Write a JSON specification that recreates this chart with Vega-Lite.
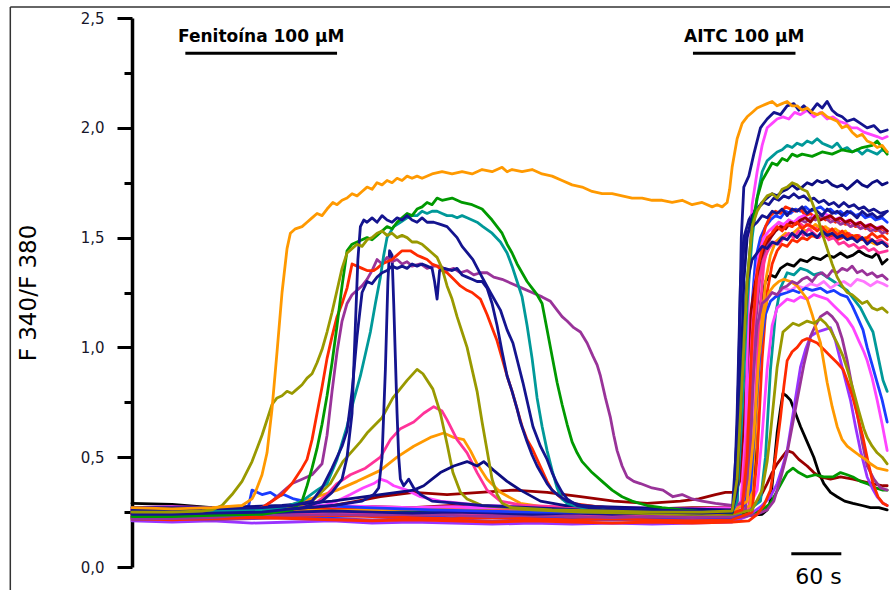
{
  "$schema": "https://vega.github.io/schema/vega-lite/v6.json",
  "width": 756,
  "height": 549,
  "autosize": {"type": "none"},
  "padding": {"left": 132, "top": 18, "right": 2, "bottom": 23},
  "background": "white",
  "config": {"view": {"stroke": null}, "font": "DejaVu Sans"},
  "datasets": {
    "drugs": [
      {"drug": "Fenitoína 100 µM", "start": 64, "end": 246},
      {"drug": "AITC 100 µM", "start": 673, "end": 796}
    ],
    "scalebar": [
      {"label": "60 s", "start": 791, "end": 851}
    ],
    "traces": [
{"s":"q","t":0,"v":0.29},{"s":"q","t":48,"v":0.285},{"s":"q","t":96,"v":0.27},{"s":"q","t":144,"v":0.26},{"s":"q","t":192,"v":0.26},{"s":"q","t":240,"v":0.255},{"s":"q","t":288,"v":0.25},{"s":"q","t":336,"v":0.26},{"s":"q","t":384,"v":0.25},{"s":"q","t":432,"v":0.25},{"s":"q","t":480,"v":0.245},{"s":"q","t":528,"v":0.24},{"s":"q","t":576,"v":0.245},{"s":"q","t":624,"v":0.24},{"s":"q","t":672,"v":0.235},{"s":"q","t":720,"v":0.24},{"s":"q","t":740,"v":0.25},{"s":"q","t":746,"v":0.4},{"s":"q","t":750,"v":0.8},{"s":"q","t":754,"v":1.2},{"s":"q","t":760,"v":1.3},{"s":"q","t":766,"v":1.33},{"s":"q","t":772,"v":1.32},{"s":"q","t":778,"v":1.36},{"s":"q","t":786,"v":1.38},{"s":"q","t":794,"v":1.37},{"s":"q","t":802,"v":1.4},{"s":"q","t":810,"v":1.39},{"s":"q","t":817,"v":1.41},{"s":"q","t":826,"v":1.4},{"s":"q","t":834,"v":1.42},{"s":"q","t":842,"v":1.41},{"s":"q","t":850,"v":1.43},{"s":"q","t":858,"v":1.41},{"s":"q","t":865,"v":1.42},{"s":"q","t":872,"v":1.44},{"s":"q","t":880,"v":1.42},{"s":"q","t":888,"v":1.41},{"s":"q","t":894,"v":1.43},{"s":"q","t":900,"v":1.38},{"s":"q","t":906,"v":1.4},
{"s":"r","t":0,"v":0.225},{"s":"r","t":48,"v":0.23},{"s":"r","t":96,"v":0.235},{"s":"r","t":144,"v":0.23},{"s":"r","t":192,"v":0.24},{"s":"r","t":240,"v":0.245},{"s":"r","t":288,"v":0.24},{"s":"r","t":336,"v":0.25},{"s":"r","t":384,"v":0.245},{"s":"r","t":432,"v":0.24},{"s":"r","t":480,"v":0.235},{"s":"r","t":528,"v":0.24},{"s":"r","t":576,"v":0.235},{"s":"r","t":624,"v":0.23},{"s":"r","t":672,"v":0.235},{"s":"r","t":720,"v":0.23},{"s":"r","t":756,"v":0.24},{"s":"r","t":762,"v":0.26},{"s":"r","t":766,"v":0.3},{"s":"r","t":770,"v":0.45},{"s":"r","t":774,"v":0.61},{"s":"r","t":778,"v":0.72},{"s":"r","t":781,"v":0.79},{"s":"r","t":785,"v":0.78},{"s":"r","t":790,"v":0.76},{"s":"r","t":796,"v":0.7},{"s":"r","t":802,"v":0.64},{"s":"r","t":810,"v":0.57},{"s":"r","t":818,"v":0.5},{"s":"r","t":824,"v":0.43},{"s":"r","t":830,"v":0.38},{"s":"r","t":838,"v":0.34},{"s":"r","t":846,"v":0.32},{"s":"r","t":855,"v":0.3},{"s":"r","t":865,"v":0.29},{"s":"r","t":876,"v":0.28},{"s":"r","t":886,"v":0.27},{"s":"r","t":896,"v":0.27},{"s":"r","t":906,"v":0.26},
{"s":"s","t":0,"v":0.26},{"s":"s","t":48,"v":0.265},{"s":"s","t":96,"v":0.26},{"s":"s","t":144,"v":0.27},{"s":"s","t":192,"v":0.265},{"s":"s","t":240,"v":0.27},{"s":"s","t":288,"v":0.275},{"s":"s","t":336,"v":0.27},{"s":"s","t":384,"v":0.28},{"s":"s","t":432,"v":0.275},{"s":"s","t":480,"v":0.27},{"s":"s","t":528,"v":0.265},{"s":"s","t":576,"v":0.27},{"s":"s","t":624,"v":0.265},{"s":"s","t":672,"v":0.27},{"s":"s","t":720,"v":0.27},{"s":"s","t":740,"v":0.27},{"s":"s","t":748,"v":0.29},{"s":"s","t":754,"v":0.32},{"s":"s","t":762,"v":0.38},{"s":"s","t":768,"v":0.43},{"s":"s","t":774,"v":0.47},{"s":"s","t":780,"v":0.5},{"s":"s","t":786,"v":0.53},{"s":"s","t":793,"v":0.52},{"s":"s","t":800,"v":0.49},{"s":"s","t":810,"v":0.46},{"s":"s","t":818,"v":0.43},{"s":"s","t":826,"v":0.41},{"s":"s","t":838,"v":0.4},{"s":"s","t":850,"v":0.41},{"s":"s","t":865,"v":0.4},{"s":"s","t":876,"v":0.39},{"s":"s","t":888,"v":0.38},{"s":"s","t":901,"v":0.37},{"s":"s","t":906,"v":0.37},
{"s":"u","t":0,"v":0.25},{"s":"u","t":48,"v":0.245},{"s":"u","t":96,"v":0.25},{"s":"u","t":144,"v":0.24},{"s":"u","t":192,"v":0.245},{"s":"u","t":240,"v":0.25},{"s":"u","t":288,"v":0.24},{"s":"u","t":336,"v":0.245},{"s":"u","t":384,"v":0.24},{"s":"u","t":432,"v":0.235},{"s":"u","t":480,"v":0.24},{"s":"u","t":528,"v":0.235},{"s":"u","t":576,"v":0.23},{"s":"u","t":624,"v":0.235},{"s":"u","t":672,"v":0.23},{"s":"u","t":720,"v":0.235},{"s":"u","t":740,"v":0.24},{"s":"u","t":756,"v":0.26},{"s":"u","t":766,"v":0.29},{"s":"u","t":776,"v":0.36},{"s":"u","t":786,"v":0.43},{"s":"u","t":793,"v":0.45},{"s":"u","t":800,"v":0.43},{"s":"u","t":810,"v":0.41},{"s":"u","t":820,"v":0.42},{"s":"u","t":830,"v":0.41},{"s":"u","t":841,"v":0.41},{"s":"u","t":850,"v":0.43},{"s":"u","t":858,"v":0.42},{"s":"u","t":865,"v":0.41},{"s":"u","t":874,"v":0.39},{"s":"u","t":882,"v":0.38},{"s":"u","t":892,"v":0.36},{"s":"u","t":901,"v":0.35},{"s":"u","t":906,"v":0.35},
{"s":"v","t":0,"v":0.21},{"s":"v","t":48,"v":0.205},{"s":"v","t":96,"v":0.21},{"s":"v","t":144,"v":0.2},{"s":"v","t":192,"v":0.205},{"s":"v","t":240,"v":0.21},{"s":"v","t":288,"v":0.2},{"s":"v","t":336,"v":0.205},{"s":"v","t":384,"v":0.2},{"s":"v","t":432,"v":0.195},{"s":"v","t":480,"v":0.2},{"s":"v","t":528,"v":0.195},{"s":"v","t":576,"v":0.2},{"s":"v","t":624,"v":0.195},{"s":"v","t":672,"v":0.2},{"s":"v","t":720,"v":0.205},{"s":"v","t":738,"v":0.23},{"s":"v","t":756,"v":0.28},{"s":"v","t":766,"v":0.32},{"s":"v","t":774,"v":0.38},{"s":"v","t":780,"v":0.45},{"s":"v","t":786,"v":0.53},{"s":"v","t":794,"v":0.72},{"s":"v","t":802,"v":0.91},{"s":"v","t":808,"v":0.99},{"s":"v","t":814,"v":1.05},{"s":"v","t":822,"v":1.07},{"s":"v","t":830,"v":1.08},{"s":"v","t":838,"v":1.09},{"s":"v","t":844,"v":1.03},{"s":"v","t":850,"v":0.94},{"s":"v","t":856,"v":0.85},{"s":"v","t":862,"v":0.76},{"s":"v","t":868,"v":0.64},{"s":"v","t":874,"v":0.53},{"s":"v","t":882,"v":0.41},{"s":"v","t":888,"v":0.36},{"s":"v","t":894,"v":0.32},{"s":"v","t":901,"v":0.29},{"s":"v","t":906,"v":0.28},
{"s":"w","t":0,"v":0.215},{"s":"w","t":48,"v":0.22},{"s":"w","t":96,"v":0.215},{"s":"w","t":144,"v":0.22},{"s":"w","t":192,"v":0.225},{"s":"w","t":240,"v":0.22},{"s":"w","t":288,"v":0.215},{"s":"w","t":336,"v":0.22},{"s":"w","t":384,"v":0.215},{"s":"w","t":432,"v":0.21},{"s":"w","t":480,"v":0.215},{"s":"w","t":528,"v":0.21},{"s":"w","t":576,"v":0.215},{"s":"w","t":624,"v":0.21},{"s":"w","t":672,"v":0.215},{"s":"w","t":720,"v":0.22},{"s":"w","t":750,"v":0.24},{"s":"w","t":762,"v":0.26},{"s":"w","t":770,"v":0.3},{"s":"w","t":778,"v":0.4},{"s":"w","t":786,"v":0.52},{"s":"w","t":792,"v":0.64},{"s":"w","t":798,"v":0.76},{"s":"w","t":806,"v":0.92},{"s":"w","t":814,"v":1.05},{"s":"w","t":820,"v":1.1},{"s":"w","t":826,"v":1.14},{"s":"w","t":834,"v":1.16},{"s":"w","t":840,"v":1.14},{"s":"w","t":846,"v":1.11},{"s":"w","t":852,"v":1.04},{"s":"w","t":858,"v":0.94},{"s":"w","t":864,"v":0.82},{"s":"w","t":870,"v":0.7},{"s":"w","t":876,"v":0.57},{"s":"w","t":882,"v":0.46},{"s":"w","t":890,"v":0.4},{"s":"w","t":898,"v":0.36},{"s":"w","t":906,"v":0.35},
{"s":"x","t":0,"v":0.255},{"s":"x","t":48,"v":0.26},{"s":"x","t":96,"v":0.255},{"s":"x","t":144,"v":0.26},{"s":"x","t":192,"v":0.265},{"s":"x","t":240,"v":0.26},{"s":"x","t":288,"v":0.255},{"s":"x","t":336,"v":0.26},{"s":"x","t":384,"v":0.255},{"s":"x","t":432,"v":0.25},{"s":"x","t":480,"v":0.255},{"s":"x","t":528,"v":0.25},{"s":"x","t":576,"v":0.245},{"s":"x","t":624,"v":0.25},{"s":"x","t":672,"v":0.245},{"s":"x","t":720,"v":0.25},{"s":"x","t":740,"v":0.26},{"s":"x","t":754,"v":0.3},{"s":"x","t":760,"v":0.5},{"s":"x","t":766,"v":0.9},{"s":"x","t":772,"v":1.15},{"s":"x","t":778,"v":1.27},{"s":"x","t":786,"v":1.34},{"s":"x","t":794,"v":1.33},{"s":"x","t":802,"v":1.36},{"s":"x","t":810,"v":1.35},{"s":"x","t":818,"v":1.33},{"s":"x","t":826,"v":1.34},{"s":"x","t":834,"v":1.32},{"s":"x","t":842,"v":1.3},{"s":"x","t":850,"v":1.28},{"s":"x","t":858,"v":1.26},{"s":"x","t":866,"v":1.22},{"s":"x","t":874,"v":1.18},{"s":"x","t":882,"v":1.12},{"s":"x","t":889,"v":1.07},{"s":"x","t":895,"v":0.96},{"s":"x","t":901,"v":0.85},{"s":"x","t":906,"v":0.8},
{"s":"y","t":0,"v":0.27},{"s":"y","t":48,"v":0.275},{"s":"y","t":96,"v":0.27},{"s":"y","t":144,"v":0.265},{"s":"y","t":192,"v":0.27},{"s":"y","t":240,"v":0.275},{"s":"y","t":288,"v":0.27},{"s":"y","t":336,"v":0.265},{"s":"y","t":384,"v":0.27},{"s":"y","t":432,"v":0.265},{"s":"y","t":480,"v":0.26},{"s":"y","t":528,"v":0.265},{"s":"y","t":576,"v":0.26},{"s":"y","t":624,"v":0.255},{"s":"y","t":672,"v":0.26},{"s":"y","t":720,"v":0.26},{"s":"y","t":740,"v":0.27},{"s":"y","t":750,"v":0.35},{"s":"y","t":756,"v":0.6},{"s":"y","t":762,"v":0.9},{"s":"y","t":768,"v":1.1},{"s":"y","t":774,"v":1.18},{"s":"y","t":780,"v":1.2},{"s":"y","t":786,"v":1.22},{"s":"y","t":794,"v":1.21},{"s":"y","t":802,"v":1.23},{"s":"y","t":810,"v":1.22},{"s":"y","t":818,"v":1.24},{"s":"y","t":826,"v":1.23},{"s":"y","t":834,"v":1.22},{"s":"y","t":842,"v":1.19},{"s":"y","t":850,"v":1.16},{"s":"y","t":858,"v":1.13},{"s":"y","t":865,"v":1.09},{"s":"y","t":872,"v":1.03},{"s":"y","t":878,"v":0.98},{"s":"y","t":882,"v":0.94},{"s":"y","t":888,"v":0.86},{"s":"y","t":894,"v":0.76},{"s":"y","t":900,"v":0.65},{"s":"y","t":906,"v":0.53},
{"s":"z","t":0,"v":0.24},{"s":"z","t":48,"v":0.245},{"s":"z","t":96,"v":0.24},{"s":"z","t":144,"v":0.235},{"s":"z","t":192,"v":0.24},{"s":"z","t":240,"v":0.245},{"s":"z","t":288,"v":0.24},{"s":"z","t":336,"v":0.235},{"s":"z","t":384,"v":0.24},{"s":"z","t":432,"v":0.235},{"s":"z","t":480,"v":0.23},{"s":"z","t":528,"v":0.235},{"s":"z","t":576,"v":0.23},{"s":"z","t":624,"v":0.235},{"s":"z","t":672,"v":0.23},{"s":"z","t":720,"v":0.235},{"s":"z","t":730,"v":0.25},{"s":"z","t":740,"v":0.4},{"s":"z","t":746,"v":0.8},{"s":"z","t":752,"v":1.05},{"s":"z","t":758,"v":1.18},{"s":"z","t":766,"v":1.25},{"s":"z","t":774,"v":1.24},{"s":"z","t":782,"v":1.27},{"s":"z","t":790,"v":1.26},{"s":"z","t":798,"v":1.28},{"s":"z","t":806,"v":1.27},{"s":"z","t":814,"v":1.29},{"s":"z","t":822,"v":1.28},{"s":"z","t":830,"v":1.3},{"s":"z","t":838,"v":1.27},{"s":"z","t":846,"v":1.29},{"s":"z","t":854,"v":1.3},{"s":"z","t":862,"v":1.28},{"s":"z","t":870,"v":1.31},{"s":"z","t":878,"v":1.3},{"s":"z","t":886,"v":1.28},{"s":"z","t":894,"v":1.3},{"s":"z","t":901,"v":1.29},{"s":"z","t":906,"v":1.28},
{"s":"aa","t":0,"v":0.22},{"s":"aa","t":48,"v":0.215},{"s":"aa","t":96,"v":0.22},{"s":"aa","t":144,"v":0.225},{"s":"aa","t":192,"v":0.22},{"s":"aa","t":240,"v":0.215},{"s":"aa","t":288,"v":0.21},{"s":"aa","t":336,"v":0.215},{"s":"aa","t":384,"v":0.21},{"s":"aa","t":432,"v":0.205},{"s":"aa","t":480,"v":0.21},{"s":"aa","t":528,"v":0.205},{"s":"aa","t":576,"v":0.2},{"s":"aa","t":624,"v":0.205},{"s":"aa","t":672,"v":0.2},{"s":"aa","t":720,"v":0.205},{"s":"aa","t":740,"v":0.21},{"s":"aa","t":750,"v":0.24},{"s":"aa","t":758,"v":0.28},{"s":"aa","t":766,"v":0.35},{"s":"aa","t":772,"v":0.5},{"s":"aa","t":778,"v":0.68},{"s":"aa","t":782,"v":0.82},{"s":"aa","t":786,"v":0.94},{"s":"aa","t":792,"v":0.98},{"s":"aa","t":798,"v":1.0},{"s":"aa","t":804,"v":1.03},{"s":"aa","t":810,"v":1.04},{"s":"aa","t":816,"v":1.03},{"s":"aa","t":822,"v":1.02},{"s":"aa","t":830,"v":0.99},{"s":"aa","t":838,"v":0.96},{"s":"aa","t":846,"v":0.93},{"s":"aa","t":853,"v":0.9},{"s":"aa","t":859,"v":0.84},{"s":"aa","t":865,"v":0.77},{"s":"aa","t":871,"v":0.68},{"s":"aa","t":877,"v":0.59},{"s":"aa","t":883,"v":0.48},{"s":"aa","t":889,"v":0.38},{"s":"aa","t":895,"v":0.32},{"s":"aa","t":901,"v":0.29},{"s":"aa","t":906,"v":0.28},
{"s":"ab","t":0,"v":0.235},{"s":"ab","t":48,"v":0.23},{"s":"ab","t":96,"v":0.235},{"s":"ab","t":144,"v":0.24},{"s":"ab","t":192,"v":0.235},{"s":"ab","t":240,"v":0.23},{"s":"ab","t":288,"v":0.235},{"s":"ab","t":336,"v":0.23},{"s":"ab","t":384,"v":0.225},{"s":"ab","t":432,"v":0.23},{"s":"ab","t":480,"v":0.225},{"s":"ab","t":528,"v":0.22},{"s":"ab","t":576,"v":0.225},{"s":"ab","t":624,"v":0.22},{"s":"ab","t":672,"v":0.225},{"s":"ab","t":720,"v":0.225},{"s":"ab","t":730,"v":0.24},{"s":"ab","t":736,"v":0.5},{"s":"ab","t":742,"v":1.1},{"s":"ab","t":748,"v":1.4},{"s":"ab","t":754,"v":1.5},{"s":"ab","t":760,"v":1.55},{"s":"ab","t":766,"v":1.58},{"s":"ab","t":772,"v":1.6},{"s":"ab","t":778,"v":1.59},{"s":"ab","t":784,"v":1.62},{"s":"ab","t":790,"v":1.61},{"s":"ab","t":796,"v":1.63},{"s":"ab","t":802,"v":1.62},{"s":"ab","t":808,"v":1.64},{"s":"ab","t":814,"v":1.62},{"s":"ab","t":820,"v":1.63},{"s":"ab","t":826,"v":1.64},{"s":"ab","t":832,"v":1.62},{"s":"ab","t":838,"v":1.63},{"s":"ab","t":844,"v":1.61},{"s":"ab","t":850,"v":1.62},{"s":"ab","t":856,"v":1.6},{"s":"ab","t":862,"v":1.62},{"s":"ab","t":868,"v":1.6},{"s":"ab","t":874,"v":1.61},{"s":"ab","t":880,"v":1.59},{"s":"ab","t":886,"v":1.6},{"s":"ab","t":892,"v":1.58},{"s":"ab","t":900,"v":1.59},{"s":"ab","t":906,"v":1.57},
{"s":"ac","t":0,"v":0.255},{"s":"ac","t":48,"v":0.25},{"s":"ac","t":96,"v":0.255},{"s":"ac","t":144,"v":0.26},{"s":"ac","t":192,"v":0.27},{"s":"ac","t":240,"v":0.265},{"s":"ac","t":288,"v":0.26},{"s":"ac","t":336,"v":0.265},{"s":"ac","t":384,"v":0.26},{"s":"ac","t":432,"v":0.255},{"s":"ac","t":480,"v":0.26},{"s":"ac","t":528,"v":0.255},{"s":"ac","t":576,"v":0.25},{"s":"ac","t":624,"v":0.255},{"s":"ac","t":672,"v":0.25},{"s":"ac","t":720,"v":0.255},{"s":"ac","t":736,"v":0.27},{"s":"ac","t":742,"v":0.6},{"s":"ac","t":748,"v":1.2},{"s":"ac","t":754,"v":1.45},{"s":"ac","t":760,"v":1.55},{"s":"ac","t":766,"v":1.6},{"s":"ac","t":772,"v":1.62},{"s":"ac","t":778,"v":1.61},{"s":"ac","t":784,"v":1.64},{"s":"ac","t":790,"v":1.63},{"s":"ac","t":796,"v":1.62},{"s":"ac","t":802,"v":1.63},{"s":"ac","t":808,"v":1.6},{"s":"ac","t":814,"v":1.61},{"s":"ac","t":820,"v":1.59},{"s":"ac","t":826,"v":1.6},{"s":"ac","t":832,"v":1.58},{"s":"ac","t":838,"v":1.59},{"s":"ac","t":844,"v":1.57},{"s":"ac","t":850,"v":1.58},{"s":"ac","t":856,"v":1.56},{"s":"ac","t":862,"v":1.57},{"s":"ac","t":868,"v":1.55},{"s":"ac","t":874,"v":1.56},{"s":"ac","t":880,"v":1.54},{"s":"ac","t":886,"v":1.55},{"s":"ac","t":892,"v":1.53},{"s":"ac","t":900,"v":1.54},{"s":"ac","t":906,"v":1.52},
{"s":"ad","t":0,"v":0.245},{"s":"ad","t":48,"v":0.25},{"s":"ad","t":96,"v":0.245},{"s":"ad","t":144,"v":0.24},{"s":"ad","t":192,"v":0.245},{"s":"ad","t":240,"v":0.25},{"s":"ad","t":288,"v":0.245},{"s":"ad","t":336,"v":0.24},{"s":"ad","t":384,"v":0.245},{"s":"ad","t":432,"v":0.24},{"s":"ad","t":480,"v":0.235},{"s":"ad","t":528,"v":0.24},{"s":"ad","t":576,"v":0.235},{"s":"ad","t":624,"v":0.24},{"s":"ad","t":672,"v":0.235},{"s":"ad","t":720,"v":0.24},{"s":"ad","t":740,"v":0.26},{"s":"ad","t":746,"v":0.55},{"s":"ad","t":752,"v":1.1},{"s":"ad","t":758,"v":1.38},{"s":"ad","t":764,"v":1.48},{"s":"ad","t":770,"v":1.54},{"s":"ad","t":776,"v":1.57},{"s":"ad","t":782,"v":1.55},{"s":"ad","t":788,"v":1.58},{"s":"ad","t":794,"v":1.56},{"s":"ad","t":800,"v":1.57},{"s":"ad","t":806,"v":1.55},{"s":"ad","t":812,"v":1.56},{"s":"ad","t":818,"v":1.54},{"s":"ad","t":824,"v":1.55},{"s":"ad","t":830,"v":1.53},{"s":"ad","t":836,"v":1.54},{"s":"ad","t":842,"v":1.52},{"s":"ad","t":848,"v":1.53},{"s":"ad","t":854,"v":1.51},{"s":"ad","t":860,"v":1.52},{"s":"ad","t":866,"v":1.5},{"s":"ad","t":872,"v":1.51},{"s":"ad","t":878,"v":1.49},{"s":"ad","t":884,"v":1.5},{"s":"ad","t":890,"v":1.48},{"s":"ad","t":898,"v":1.49},{"s":"ad","t":906,"v":1.47},
{"s":"ae","t":0,"v":0.26},{"s":"ae","t":48,"v":0.255},{"s":"ae","t":96,"v":0.26},{"s":"ae","t":144,"v":0.265},{"s":"ae","t":192,"v":0.26},{"s":"ae","t":240,"v":0.255},{"s":"ae","t":288,"v":0.26},{"s":"ae","t":336,"v":0.265},{"s":"ae","t":384,"v":0.26},{"s":"ae","t":432,"v":0.255},{"s":"ae","t":480,"v":0.25},{"s":"ae","t":528,"v":0.255},{"s":"ae","t":576,"v":0.25},{"s":"ae","t":624,"v":0.245},{"s":"ae","t":672,"v":0.25},{"s":"ae","t":720,"v":0.245},{"s":"ae","t":742,"v":0.28},{"s":"ae","t":748,"v":0.6},{"s":"ae","t":754,"v":1.05},{"s":"ae","t":760,"v":1.3},{"s":"ae","t":766,"v":1.42},{"s":"ae","t":772,"v":1.48},{"s":"ae","t":778,"v":1.5},{"s":"ae","t":784,"v":1.52},{"s":"ae","t":790,"v":1.51},{"s":"ae","t":796,"v":1.53},{"s":"ae","t":802,"v":1.55},{"s":"ae","t":808,"v":1.53},{"s":"ae","t":814,"v":1.54},{"s":"ae","t":820,"v":1.56},{"s":"ae","t":826,"v":1.54},{"s":"ae","t":832,"v":1.55},{"s":"ae","t":838,"v":1.53},{"s":"ae","t":844,"v":1.54},{"s":"ae","t":850,"v":1.52},{"s":"ae","t":856,"v":1.53},{"s":"ae","t":862,"v":1.5},{"s":"ae","t":868,"v":1.51},{"s":"ae","t":874,"v":1.49},{"s":"ae","t":880,"v":1.5},{"s":"ae","t":886,"v":1.48},{"s":"ae","t":892,"v":1.47},{"s":"ae","t":900,"v":1.48},{"s":"ae","t":906,"v":1.46},
{"s":"af","t":0,"v":0.265},{"s":"af","t":48,"v":0.27},{"s":"af","t":96,"v":0.265},{"s":"af","t":144,"v":0.27},{"s":"af","t":192,"v":0.275},{"s":"af","t":240,"v":0.28},{"s":"af","t":288,"v":0.275},{"s":"af","t":336,"v":0.27},{"s":"af","t":384,"v":0.275},{"s":"af","t":432,"v":0.27},{"s":"af","t":480,"v":0.265},{"s":"af","t":528,"v":0.27},{"s":"af","t":576,"v":0.265},{"s":"af","t":624,"v":0.26},{"s":"af","t":672,"v":0.265},{"s":"af","t":720,"v":0.27},{"s":"af","t":734,"v":0.3},{"s":"af","t":740,"v":0.8},{"s":"af","t":746,"v":1.25},{"s":"af","t":752,"v":1.42},{"s":"af","t":758,"v":1.5},{"s":"af","t":764,"v":1.53},{"s":"af","t":770,"v":1.55},{"s":"af","t":776,"v":1.57},{"s":"af","t":782,"v":1.56},{"s":"af","t":788,"v":1.58},{"s":"af","t":794,"v":1.57},{"s":"af","t":800,"v":1.59},{"s":"af","t":806,"v":1.6},{"s":"af","t":812,"v":1.58},{"s":"af","t":818,"v":1.6},{"s":"af","t":824,"v":1.59},{"s":"af","t":830,"v":1.61},{"s":"af","t":836,"v":1.6},{"s":"af","t":842,"v":1.58},{"s":"af","t":848,"v":1.59},{"s":"af","t":854,"v":1.57},{"s":"af","t":860,"v":1.58},{"s":"af","t":866,"v":1.56},{"s":"af","t":872,"v":1.57},{"s":"af","t":878,"v":1.55},{"s":"af","t":884,"v":1.56},{"s":"af","t":890,"v":1.54},{"s":"af","t":898,"v":1.55},{"s":"af","t":906,"v":1.53},
{"s":"ag","t":0,"v":0.23},{"s":"ag","t":48,"v":0.235},{"s":"ag","t":96,"v":0.23},{"s":"ag","t":144,"v":0.225},{"s":"ag","t":192,"v":0.23},{"s":"ag","t":240,"v":0.235},{"s":"ag","t":288,"v":0.23},{"s":"ag","t":336,"v":0.225},{"s":"ag","t":384,"v":0.22},{"s":"ag","t":432,"v":0.225},{"s":"ag","t":480,"v":0.22},{"s":"ag","t":528,"v":0.215},{"s":"ag","t":576,"v":0.22},{"s":"ag","t":624,"v":0.215},{"s":"ag","t":672,"v":0.21},{"s":"ag","t":720,"v":0.215},{"s":"ag","t":744,"v":0.25},{"s":"ag","t":750,"v":0.5},{"s":"ag","t":756,"v":0.95},{"s":"ag","t":762,"v":1.25},{"s":"ag","t":768,"v":1.38},{"s":"ag","t":774,"v":1.44},{"s":"ag","t":780,"v":1.47},{"s":"ag","t":786,"v":1.46},{"s":"ag","t":792,"v":1.49},{"s":"ag","t":798,"v":1.48},{"s":"ag","t":804,"v":1.5},{"s":"ag","t":810,"v":1.49},{"s":"ag","t":816,"v":1.51},{"s":"ag","t":822,"v":1.5},{"s":"ag","t":828,"v":1.52},{"s":"ag","t":834,"v":1.5},{"s":"ag","t":840,"v":1.51},{"s":"ag","t":846,"v":1.49},{"s":"ag","t":852,"v":1.5},{"s":"ag","t":858,"v":1.52},{"s":"ag","t":864,"v":1.5},{"s":"ag","t":870,"v":1.51},{"s":"ag","t":876,"v":1.49},{"s":"ag","t":882,"v":1.5},{"s":"ag","t":888,"v":1.52},{"s":"ag","t":894,"v":1.5},{"s":"ag","t":900,"v":1.51},{"s":"ag","t":906,"v":1.49},
{"s":"ah","t":0,"v":0.245},{"s":"ah","t":48,"v":0.24},{"s":"ah","t":96,"v":0.245},{"s":"ah","t":144,"v":0.24},{"s":"ah","t":192,"v":0.235},{"s":"ah","t":240,"v":0.24},{"s":"ah","t":288,"v":0.235},{"s":"ah","t":336,"v":0.24},{"s":"ah","t":384,"v":0.235},{"s":"ah","t":432,"v":0.23},{"s":"ah","t":480,"v":0.235},{"s":"ah","t":528,"v":0.23},{"s":"ah","t":576,"v":0.225},{"s":"ah","t":624,"v":0.23},{"s":"ah","t":672,"v":0.225},{"s":"ah","t":720,"v":0.23},{"s":"ah","t":736,"v":0.26},{"s":"ah","t":742,"v":0.55},{"s":"ah","t":748,"v":1.1},{"s":"ah","t":754,"v":1.35},{"s":"ah","t":760,"v":1.45},{"s":"ah","t":766,"v":1.5},{"s":"ah","t":772,"v":1.53},{"s":"ah","t":778,"v":1.55},{"s":"ah","t":784,"v":1.54},{"s":"ah","t":790,"v":1.57},{"s":"ah","t":796,"v":1.56},{"s":"ah","t":802,"v":1.58},{"s":"ah","t":808,"v":1.57},{"s":"ah","t":814,"v":1.59},{"s":"ah","t":820,"v":1.58},{"s":"ah","t":826,"v":1.6},{"s":"ah","t":832,"v":1.59},{"s":"ah","t":838,"v":1.57},{"s":"ah","t":844,"v":1.58},{"s":"ah","t":850,"v":1.56},{"s":"ah","t":856,"v":1.57},{"s":"ah","t":862,"v":1.55},{"s":"ah","t":868,"v":1.56},{"s":"ah","t":874,"v":1.54},{"s":"ah","t":880,"v":1.55},{"s":"ah","t":886,"v":1.53},{"s":"ah","t":894,"v":1.54},{"s":"ah","t":900,"v":1.52},{"s":"ah","t":906,"v":1.53},
{"s":"ai","t":0,"v":0.25},{"s":"ai","t":48,"v":0.255},{"s":"ai","t":96,"v":0.25},{"s":"ai","t":144,"v":0.245},{"s":"ai","t":192,"v":0.25},{"s":"ai","t":240,"v":0.255},{"s":"ai","t":288,"v":0.25},{"s":"ai","t":336,"v":0.245},{"s":"ai","t":384,"v":0.25},{"s":"ai","t":432,"v":0.245},{"s":"ai","t":480,"v":0.24},{"s":"ai","t":528,"v":0.245},{"s":"ai","t":576,"v":0.24},{"s":"ai","t":624,"v":0.245},{"s":"ai","t":672,"v":0.24},{"s":"ai","t":712,"v":0.245},{"s":"ai","t":722,"v":0.27},{"s":"ai","t":726,"v":0.7},{"s":"ai","t":730,"v":1.3},{"s":"ai","t":734,"v":1.5},{"s":"ai","t":740,"v":1.58},{"s":"ai","t":746,"v":1.62},{"s":"ai","t":752,"v":1.64},{"s":"ai","t":758,"v":1.66},{"s":"ai","t":764,"v":1.65},{"s":"ai","t":770,"v":1.68},{"s":"ai","t":776,"v":1.67},{"s":"ai","t":782,"v":1.69},{"s":"ai","t":788,"v":1.68},{"s":"ai","t":794,"v":1.7},{"s":"ai","t":800,"v":1.68},{"s":"ai","t":806,"v":1.69},{"s":"ai","t":812,"v":1.67},{"s":"ai","t":818,"v":1.68},{"s":"ai","t":824,"v":1.66},{"s":"ai","t":830,"v":1.67},{"s":"ai","t":836,"v":1.65},{"s":"ai","t":842,"v":1.66},{"s":"ai","t":848,"v":1.64},{"s":"ai","t":854,"v":1.66},{"s":"ai","t":860,"v":1.64},{"s":"ai","t":866,"v":1.65},{"s":"ai","t":872,"v":1.63},{"s":"ai","t":878,"v":1.64},{"s":"ai","t":884,"v":1.62},{"s":"ai","t":890,"v":1.63},{"s":"ai","t":898,"v":1.61},{"s":"ai","t":906,"v":1.62},
{"s":"p","t":0,"v":0.23},{"s":"p","t":48,"v":0.235},{"s":"p","t":96,"v":0.24},{"s":"p","t":130,"v":0.26},{"s":"p","t":140,"v":0.28},{"s":"p","t":144,"v":0.35},{"s":"p","t":150,"v":0.34},{"s":"p","t":156,"v":0.33},{"s":"p","t":166,"v":0.34},{"s":"p","t":174,"v":0.32},{"s":"p","t":182,"v":0.33},{"s":"p","t":194,"v":0.31},{"s":"p","t":206,"v":0.3},{"s":"p","t":230,"v":0.28},{"s":"p","t":280,"v":0.27},{"s":"p","t":360,"v":0.26},{"s":"p","t":480,"v":0.25},{"s":"p","t":600,"v":0.25},{"s":"p","t":660,"v":0.245},{"s":"p","t":720,"v":0.24},{"s":"p","t":730,"v":0.25},{"s":"p","t":742,"v":0.35},{"s":"p","t":748,"v":0.7},{"s":"p","t":754,"v":1.0},{"s":"p","t":760,"v":1.15},{"s":"p","t":766,"v":1.21},{"s":"p","t":772,"v":1.23},{"s":"p","t":778,"v":1.24},{"s":"p","t":786,"v":1.25},{"s":"p","t":793,"v":1.26},{"s":"p","t":800,"v":1.25},{"s":"p","t":808,"v":1.27},{"s":"p","t":816,"v":1.26},{"s":"p","t":826,"v":1.27},{"s":"p","t":834,"v":1.25},{"s":"p","t":842,"v":1.26},{"s":"p","t":850,"v":1.24},{"s":"p","t":858,"v":1.23},{"s":"p","t":864,"v":1.19},{"s":"p","t":870,"v":1.14},{"s":"p","t":877,"v":1.08},{"s":"p","t":882,"v":1.0},{"s":"p","t":888,"v":0.92},{"s":"p","t":894,"v":0.84},{"s":"p","t":900,"v":0.76},{"s":"p","t":906,"v":0.66},
{"s":"o","t":0,"v":0.24},{"s":"o","t":48,"v":0.245},{"s":"o","t":96,"v":0.25},{"s":"o","t":180,"v":0.26},{"s":"o","t":240,"v":0.28},{"s":"o","t":270,"v":0.3},{"s":"o","t":298,"v":0.32},{"s":"o","t":338,"v":0.34},{"s":"o","t":378,"v":0.33},{"s":"o","t":418,"v":0.34},{"s":"o","t":458,"v":0.35},{"s":"o","t":498,"v":0.34},{"s":"o","t":538,"v":0.32},{"s":"o","t":578,"v":0.3},{"s":"o","t":618,"v":0.29},{"s":"o","t":658,"v":0.3},{"s":"o","t":680,"v":0.31},{"s":"o","t":700,"v":0.33},{"s":"o","t":712,"v":0.34},{"s":"o","t":724,"v":0.34},{"s":"o","t":730,"v":0.4},{"s":"o","t":736,"v":0.8},{"s":"o","t":742,"v":1.15},{"s":"o","t":748,"v":1.3},{"s":"o","t":754,"v":1.4},{"s":"o","t":760,"v":1.47},{"s":"o","t":766,"v":1.5},{"s":"o","t":772,"v":1.53},{"s":"o","t":778,"v":1.55},{"s":"o","t":784,"v":1.54},{"s":"o","t":790,"v":1.57},{"s":"o","t":796,"v":1.56},{"s":"o","t":802,"v":1.58},{"s":"o","t":808,"v":1.59},{"s":"o","t":814,"v":1.57},{"s":"o","t":820,"v":1.6},{"s":"o","t":826,"v":1.58},{"s":"o","t":832,"v":1.59},{"s":"o","t":838,"v":1.6},{"s":"o","t":844,"v":1.58},{"s":"o","t":850,"v":1.59},{"s":"o","t":856,"v":1.57},{"s":"o","t":862,"v":1.58},{"s":"o","t":868,"v":1.56},{"s":"o","t":874,"v":1.57},{"s":"o","t":880,"v":1.55},{"s":"o","t":886,"v":1.56},{"s":"o","t":894,"v":1.54},{"s":"o","t":900,"v":1.55},{"s":"o","t":906,"v":1.53},
{"s":"n","t":0,"v":0.26},{"s":"n","t":48,"v":0.265},{"s":"n","t":96,"v":0.26},{"s":"n","t":180,"v":0.27},{"s":"n","t":230,"v":0.28},{"s":"n","t":246,"v":0.3},{"s":"n","t":262,"v":0.33},{"s":"n","t":277,"v":0.36},{"s":"n","t":290,"v":0.38},{"s":"n","t":298,"v":0.4},{"s":"n","t":306,"v":0.39},{"s":"n","t":314,"v":0.37},{"s":"n","t":330,"v":0.35},{"s":"n","t":346,"v":0.32},{"s":"n","t":370,"v":0.3},{"s":"n","t":420,"v":0.28},{"s":"n","t":540,"v":0.27},{"s":"n","t":600,"v":0.27},{"s":"n","t":660,"v":0.265},{"s":"n","t":720,"v":0.26},{"s":"n","t":730,"v":0.27},{"s":"n","t":736,"v":0.6},{"s":"n","t":740,"v":1.3},{"s":"n","t":744,"v":1.65},{"s":"n","t":750,"v":1.8},{"s":"n","t":756,"v":1.92},{"s":"n","t":762,"v":2.0},{"s":"n","t":768,"v":2.02},{"s":"n","t":774,"v":2.04},{"s":"n","t":781,"v":2.05},{"s":"n","t":788,"v":2.04},{"s":"n","t":795,"v":2.07},{"s":"n","t":802,"v":2.06},{"s":"n","t":810,"v":2.08},{"s":"n","t":818,"v":2.05},{"s":"n","t":826,"v":2.07},{"s":"n","t":834,"v":2.04},{"s":"n","t":841,"v":2.05},{"s":"n","t":848,"v":2.03},{"s":"n","t":856,"v":2.02},{"s":"n","t":863,"v":2.0},{"s":"n","t":870,"v":2.0},{"s":"n","t":878,"v":1.98},{"s":"n","t":886,"v":1.97},{"s":"n","t":894,"v":1.96},{"s":"n","t":900,"v":1.95},{"s":"n","t":906,"v":1.96},
{"s":"m","t":0,"v":0.25},{"s":"m","t":48,"v":0.25},{"s":"m","t":96,"v":0.255},{"s":"m","t":180,"v":0.27},{"s":"m","t":222,"v":0.32},{"s":"m","t":246,"v":0.35},{"s":"m","t":270,"v":0.39},{"s":"m","t":298,"v":0.44},{"s":"m","t":318,"v":0.5},{"s":"m","t":338,"v":0.55},{"s":"m","t":358,"v":0.59},{"s":"m","t":374,"v":0.61},{"s":"m","t":386,"v":0.59},{"s":"m","t":398,"v":0.58},{"s":"m","t":406,"v":0.53},{"s":"m","t":414,"v":0.47},{"s":"m","t":426,"v":0.4},{"s":"m","t":442,"v":0.34},{"s":"m","t":466,"v":0.29},{"s":"m","t":500,"v":0.27},{"s":"m","t":600,"v":0.26},{"s":"m","t":660,"v":0.255},{"s":"m","t":720,"v":0.25},{"s":"m","t":738,"v":0.3},{"s":"m","t":746,"v":0.6},{"s":"m","t":752,"v":0.95},{"s":"m","t":758,"v":1.15},{"s":"m","t":764,"v":1.25},{"s":"m","t":770,"v":1.28},{"s":"m","t":776,"v":1.3},{"s":"m","t":782,"v":1.31},{"s":"m","t":790,"v":1.3},{"s":"m","t":798,"v":1.28},{"s":"m","t":804,"v":1.25},{"s":"m","t":810,"v":1.22},{"s":"m","t":816,"v":1.15},{"s":"m","t":822,"v":1.07},{"s":"m","t":826,"v":1.02},{"s":"m","t":830,"v":0.93},{"s":"m","t":834,"v":0.84},{"s":"m","t":840,"v":0.73},{"s":"m","t":846,"v":0.64},{"s":"m","t":852,"v":0.58},{"s":"m","t":858,"v":0.55},{"s":"m","t":865,"v":0.53},{"s":"m","t":872,"v":0.51},{"s":"m","t":880,"v":0.49},{"s":"m","t":886,"v":0.47},{"s":"m","t":894,"v":0.45},{"s":"m","t":906,"v":0.44},
{"s":"l","t":0,"v":0.26},{"s":"l","t":48,"v":0.26},{"s":"l","t":96,"v":0.265},{"s":"l","t":180,"v":0.27},{"s":"l","t":216,"v":0.28},{"s":"l","t":234,"v":0.33},{"s":"l","t":246,"v":0.38},{"s":"l","t":262,"v":0.42},{"s":"l","t":280,"v":0.45},{"s":"l","t":298,"v":0.5},{"s":"l","t":310,"v":0.58},{"s":"l","t":322,"v":0.63},{"s":"l","t":338,"v":0.66},{"s":"l","t":350,"v":0.7},{"s":"l","t":362,"v":0.73},{"s":"l","t":372,"v":0.71},{"s":"l","t":378,"v":0.67},{"s":"l","t":390,"v":0.58},{"s":"l","t":402,"v":0.52},{"s":"l","t":414,"v":0.43},{"s":"l","t":426,"v":0.35},{"s":"l","t":442,"v":0.3},{"s":"l","t":470,"v":0.28},{"s":"l","t":540,"v":0.27},{"s":"l","t":600,"v":0.265},{"s":"l","t":660,"v":0.26},{"s":"l","t":720,"v":0.26},{"s":"l","t":732,"v":0.3},{"s":"l","t":740,"v":0.7},{"s":"l","t":746,"v":1.1},{"s":"l","t":752,"v":1.3},{"s":"l","t":758,"v":1.4},{"s":"l","t":764,"v":1.45},{"s":"l","t":770,"v":1.48},{"s":"l","t":776,"v":1.47},{"s":"l","t":782,"v":1.5},{"s":"l","t":788,"v":1.52},{"s":"l","t":794,"v":1.5},{"s":"l","t":800,"v":1.53},{"s":"l","t":806,"v":1.51},{"s":"l","t":812,"v":1.54},{"s":"l","t":818,"v":1.52},{"s":"l","t":824,"v":1.5},{"s":"l","t":830,"v":1.52},{"s":"l","t":836,"v":1.49},{"s":"l","t":842,"v":1.5},{"s":"l","t":848,"v":1.47},{"s":"l","t":854,"v":1.48},{"s":"l","t":860,"v":1.46},{"s":"l","t":866,"v":1.47},{"s":"l","t":872,"v":1.45},{"s":"l","t":878,"v":1.46},{"s":"l","t":884,"v":1.44},{"s":"l","t":890,"v":1.45},{"s":"l","t":896,"v":1.43},{"s":"l","t":906,"v":1.44},
{"s":"k","t":0,"v":0.23},{"s":"k","t":48,"v":0.23},{"s":"k","t":96,"v":0.235},{"s":"k","t":168,"v":0.25},{"s":"k","t":192,"v":0.27},{"s":"k","t":216,"v":0.3},{"s":"k","t":238,"v":0.38},{"s":"k","t":253,"v":0.48},{"s":"k","t":274,"v":0.57},{"s":"k","t":282,"v":0.61},{"s":"k","t":300,"v":0.68},{"s":"k","t":313,"v":0.77},{"s":"k","t":330,"v":0.85},{"s":"k","t":342,"v":0.9},{"s":"k","t":349,"v":0.88},{"s":"k","t":361,"v":0.81},{"s":"k","t":370,"v":0.7},{"s":"k","t":378,"v":0.56},{"s":"k","t":385,"v":0.43},{"s":"k","t":394,"v":0.34},{"s":"k","t":402,"v":0.31},{"s":"k","t":420,"v":0.28},{"s":"k","t":480,"v":0.26},{"s":"k","t":540,"v":0.25},{"s":"k","t":600,"v":0.245},{"s":"k","t":660,"v":0.24},{"s":"k","t":720,"v":0.24},{"s":"k","t":744,"v":0.26},{"s":"k","t":756,"v":0.35},{"s":"k","t":762,"v":0.48},{"s":"k","t":766,"v":0.61},{"s":"k","t":770,"v":0.76},{"s":"k","t":774,"v":0.91},{"s":"k","t":781,"v":1.07},{"s":"k","t":787,"v":1.09},{"s":"k","t":793,"v":1.11},{"s":"k","t":800,"v":1.1},{"s":"k","t":810,"v":1.12},{"s":"k","t":818,"v":1.11},{"s":"k","t":826,"v":1.13},{"s":"k","t":832,"v":1.11},{"s":"k","t":838,"v":1.08},{"s":"k","t":846,"v":1.02},{"s":"k","t":853,"v":0.96},{"s":"k","t":859,"v":0.89},{"s":"k","t":865,"v":0.81},{"s":"k","t":872,"v":0.71},{"s":"k","t":878,"v":0.63},{"s":"k","t":882,"v":0.59},{"s":"k","t":888,"v":0.55},{"s":"k","t":894,"v":0.52},{"s":"k","t":900,"v":0.5},{"s":"k","t":906,"v":0.47},
{"s":"j","t":0,"v":0.27},{"s":"j","t":48,"v":0.27},{"s":"j","t":96,"v":0.27},{"s":"j","t":180,"v":0.28},{"s":"j","t":240,"v":0.3},{"s":"j","t":298,"v":0.33},{"s":"j","t":338,"v":0.35},{"s":"j","t":350,"v":0.37},{"s":"j","t":360,"v":0.4},{"s":"j","t":370,"v":0.43},{"s":"j","t":386,"v":0.46},{"s":"j","t":402,"v":0.48},{"s":"j","t":414,"v":0.46},{"s":"j","t":422,"v":0.48},{"s":"j","t":434,"v":0.44},{"s":"j","t":450,"v":0.39},{"s":"j","t":466,"v":0.35},{"s":"j","t":490,"v":0.3},{"s":"j","t":520,"v":0.28},{"s":"j","t":600,"v":0.27},{"s":"j","t":660,"v":0.265},{"s":"j","t":720,"v":0.26},{"s":"j","t":726,"v":0.3},{"s":"j","t":730,"v":0.8},{"s":"j","t":734,"v":1.3},{"s":"j","t":738,"v":1.5},{"s":"j","t":744,"v":1.6},{"s":"j","t":750,"v":1.63},{"s":"j","t":756,"v":1.66},{"s":"j","t":762,"v":1.68},{"s":"j","t":768,"v":1.7},{"s":"j","t":774,"v":1.69},{"s":"j","t":780,"v":1.71},{"s":"j","t":786,"v":1.72},{"s":"j","t":792,"v":1.74},{"s":"j","t":798,"v":1.72},{"s":"j","t":804,"v":1.73},{"s":"j","t":810,"v":1.75},{"s":"j","t":816,"v":1.74},{"s":"j","t":822,"v":1.76},{"s":"j","t":828,"v":1.75},{"s":"j","t":834,"v":1.76},{"s":"j","t":840,"v":1.74},{"s":"j","t":846,"v":1.73},{"s":"j","t":852,"v":1.74},{"s":"j","t":858,"v":1.72},{"s":"j","t":864,"v":1.74},{"s":"j","t":870,"v":1.76},{"s":"j","t":876,"v":1.74},{"s":"j","t":882,"v":1.73},{"s":"j","t":888,"v":1.75},{"s":"j","t":894,"v":1.76},{"s":"j","t":900,"v":1.74},{"s":"j","t":906,"v":1.75},
{"s":"i","t":0,"v":0.25},{"s":"i","t":48,"v":0.25},{"s":"i","t":96,"v":0.255},{"s":"i","t":180,"v":0.26},{"s":"i","t":240,"v":0.28},{"s":"i","t":276,"v":0.3},{"s":"i","t":290,"v":0.33},{"s":"i","t":296,"v":0.36},{"s":"i","t":300,"v":0.5},{"s":"i","t":304,"v":0.9},{"s":"i","t":307,"v":1.3},{"s":"i","t":309,"v":1.44},{"s":"i","t":312,"v":1.42},{"s":"i","t":314,"v":1.2},{"s":"i","t":316,"v":0.95},{"s":"i","t":318,"v":0.7},{"s":"i","t":320,"v":0.5},{"s":"i","t":322,"v":0.4},{"s":"i","t":326,"v":0.37},{"s":"i","t":332,"v":0.4},{"s":"i","t":338,"v":0.36},{"s":"i","t":346,"v":0.33},{"s":"i","t":360,"v":0.3},{"s":"i","t":420,"v":0.28},{"s":"i","t":480,"v":0.27},{"s":"i","t":540,"v":0.26},{"s":"i","t":600,"v":0.255},{"s":"i","t":660,"v":0.25},{"s":"i","t":720,"v":0.25},{"s":"i","t":724,"v":0.3},{"s":"i","t":728,"v":0.9},{"s":"i","t":731,"v":1.5},{"s":"i","t":734,"v":1.73},{"s":"i","t":740,"v":1.78},{"s":"i","t":746,"v":1.88},{"s":"i","t":754,"v":2.0},{"s":"i","t":762,"v":2.04},{"s":"i","t":770,"v":2.07},{"s":"i","t":778,"v":2.06},{"s":"i","t":786,"v":2.1},{"s":"i","t":794,"v":2.11},{"s":"i","t":800,"v":2.08},{"s":"i","t":806,"v":2.1},{"s":"i","t":814,"v":2.07},{"s":"i","t":822,"v":2.11},{"s":"i","t":828,"v":2.09},{"s":"i","t":834,"v":2.12},{"s":"i","t":840,"v":2.08},{"s":"i","t":846,"v":2.06},{"s":"i","t":852,"v":2.05},{"s":"i","t":858,"v":2.03},{"s":"i","t":866,"v":2.04},{"s":"i","t":874,"v":2.02},{"s":"i","t":882,"v":2.0},{"s":"i","t":890,"v":2.01},{"s":"i","t":898,"v":1.98},{"s":"i","t":906,"v":1.99},
{"s":"h","t":0,"v":0.22},{"s":"h","t":48,"v":0.22},{"s":"h","t":96,"v":0.225},{"s":"h","t":144,"v":0.24},{"s":"h","t":168,"v":0.3},{"s":"h","t":180,"v":0.34},{"s":"h","t":192,"v":0.38},{"s":"h","t":204,"v":0.4},{"s":"h","t":216,"v":0.42},{"s":"h","t":228,"v":0.47},{"s":"h","t":234,"v":0.6},{"s":"h","t":240,"v":0.8},{"s":"h","t":246,"v":0.98},{"s":"h","t":252,"v":1.12},{"s":"h","t":258,"v":1.2},{"s":"h","t":264,"v":1.24},{"s":"h","t":270,"v":1.26},{"s":"h","t":276,"v":1.28},{"s":"h","t":282,"v":1.31},{"s":"h","t":288,"v":1.35},{"s":"h","t":294,"v":1.4},{"s":"h","t":300,"v":1.38},{"s":"h","t":306,"v":1.41},{"s":"h","t":312,"v":1.39},{"s":"h","t":318,"v":1.4},{"s":"h","t":324,"v":1.38},{"s":"h","t":330,"v":1.39},{"s":"h","t":336,"v":1.37},{"s":"h","t":346,"v":1.38},{"s":"h","t":354,"v":1.36},{"s":"h","t":362,"v":1.37},{"s":"h","t":370,"v":1.37},{"s":"h","t":378,"v":1.35},{"s":"h","t":386,"v":1.36},{"s":"h","t":394,"v":1.34},{"s":"h","t":402,"v":1.35},{"s":"h","t":410,"v":1.33},{"s":"h","t":418,"v":1.34},{"s":"h","t":426,"v":1.34},{"s":"h","t":434,"v":1.32},{"s":"h","t":444,"v":1.31},{"s":"h","t":456,"v":1.29},{"s":"h","t":468,"v":1.27},{"s":"h","t":480,"v":1.25},{"s":"h","t":492,"v":1.23},{"s":"h","t":502,"v":1.21},{"s":"h","t":510,"v":1.17},{"s":"h","t":516,"v":1.14},{"s":"h","t":522,"v":1.12},{"s":"h","t":530,"v":1.09},{"s":"h","t":538,"v":1.07},{"s":"h","t":546,"v":1.02},{"s":"h","t":553,"v":0.96},{"s":"h","t":558,"v":0.92},{"s":"h","t":562,"v":0.87},{"s":"h","t":568,"v":0.77},{"s":"h","t":574,"v":0.68},{"s":"h","t":578,"v":0.6},{"s":"h","t":582,"v":0.53},{"s":"h","t":588,"v":0.46},{"s":"h","t":594,"v":0.41},{"s":"h","t":602,"v":0.39},{"s":"h","t":610,"v":0.38},{"s":"h","t":624,"v":0.36},{"s":"h","t":637,"v":0.35},{"s":"h","t":649,"v":0.32},{"s":"h","t":660,"v":0.33},{"s":"h","t":672,"v":0.31},{"s":"h","t":684,"v":0.3},{"s":"h","t":700,"v":0.29},{"s":"h","t":720,"v":0.28},{"s":"h","t":732,"v":0.29},{"s":"h","t":738,"v":0.4},{"s":"h","t":744,"v":0.8},{"s":"h","t":750,"v":1.1},{"s":"h","t":756,"v":1.2},{"s":"h","t":762,"v":1.22},{"s":"h","t":768,"v":1.25},{"s":"h","t":774,"v":1.24},{"s":"h","t":780,"v":1.27},{"s":"h","t":786,"v":1.28},{"s":"h","t":792,"v":1.3},{"s":"h","t":798,"v":1.29},{"s":"h","t":804,"v":1.31},{"s":"h","t":810,"v":1.32},{"s":"h","t":816,"v":1.3},{"s":"h","t":822,"v":1.33},{"s":"h","t":828,"v":1.34},{"s":"h","t":834,"v":1.32},{"s":"h","t":840,"v":1.35},{"s":"h","t":846,"v":1.34},{"s":"h","t":852,"v":1.36},{"s":"h","t":858,"v":1.35},{"s":"h","t":864,"v":1.37},{"s":"h","t":870,"v":1.34},{"s":"h","t":876,"v":1.35},{"s":"h","t":882,"v":1.33},{"s":"h","t":888,"v":1.34},{"s":"h","t":894,"v":1.32},{"s":"h","t":900,"v":1.33},{"s":"h","t":906,"v":1.31},
{"s":"g","t":0,"v":0.24},{"s":"g","t":48,"v":0.24},{"s":"g","t":96,"v":0.245},{"s":"g","t":144,"v":0.26},{"s":"g","t":156,"v":0.27},{"s":"g","t":180,"v":0.33},{"s":"g","t":192,"v":0.38},{"s":"g","t":204,"v":0.45},{"s":"g","t":210,"v":0.49},{"s":"g","t":216,"v":0.58},{"s":"g","t":222,"v":0.7},{"s":"g","t":228,"v":0.82},{"s":"g","t":234,"v":0.95},{"s":"g","t":240,"v":1.05},{"s":"g","t":246,"v":1.14},{"s":"g","t":252,"v":1.2},{"s":"g","t":258,"v":1.27},{"s":"g","t":264,"v":1.38},{"s":"g","t":270,"v":1.37},{"s":"g","t":276,"v":1.36},{"s":"g","t":282,"v":1.35},{"s":"g","t":290,"v":1.35},{"s":"g","t":294,"v":1.36},{"s":"g","t":300,"v":1.38},{"s":"g","t":306,"v":1.39},{"s":"g","t":312,"v":1.4},{"s":"g","t":318,"v":1.42},{"s":"g","t":324,"v":1.44},{"s":"g","t":334,"v":1.44},{"s":"g","t":342,"v":1.42},{"s":"g","t":348,"v":1.41},{"s":"g","t":354,"v":1.4},{"s":"g","t":360,"v":1.38},{"s":"g","t":366,"v":1.37},{"s":"g","t":372,"v":1.35},{"s":"g","t":378,"v":1.34},{"s":"g","t":386,"v":1.31},{"s":"g","t":394,"v":1.28},{"s":"g","t":402,"v":1.26},{"s":"g","t":408,"v":1.25},{"s":"g","t":418,"v":1.22},{"s":"g","t":426,"v":1.15},{"s":"g","t":432,"v":1.09},{"s":"g","t":438,"v":1.03},{"s":"g","t":444,"v":0.95},{"s":"g","t":450,"v":0.87},{"s":"g","t":456,"v":0.8},{"s":"g","t":462,"v":0.72},{"s":"g","t":468,"v":0.64},{"s":"g","t":474,"v":0.58},{"s":"g","t":480,"v":0.54},{"s":"g","t":486,"v":0.49},{"s":"g","t":492,"v":0.44},{"s":"g","t":498,"v":0.39},{"s":"g","t":504,"v":0.35},{"s":"g","t":510,"v":0.33},{"s":"g","t":516,"v":0.31},{"s":"g","t":528,"v":0.29},{"s":"g","t":588,"v":0.26},{"s":"g","t":660,"v":0.25},{"s":"g","t":720,"v":0.245},{"s":"g","t":732,"v":0.26},{"s":"g","t":738,"v":0.5},{"s":"g","t":744,"v":1.05},{"s":"g","t":750,"v":1.35},{"s":"g","t":756,"v":1.45},{"s":"g","t":762,"v":1.5},{"s":"g","t":768,"v":1.52},{"s":"g","t":774,"v":1.55},{"s":"g","t":780,"v":1.53},{"s":"g","t":786,"v":1.56},{"s":"g","t":792,"v":1.55},{"s":"g","t":798,"v":1.57},{"s":"g","t":804,"v":1.54},{"s":"g","t":810,"v":1.56},{"s":"g","t":816,"v":1.55},{"s":"g","t":822,"v":1.53},{"s":"g","t":828,"v":1.55},{"s":"g","t":834,"v":1.52},{"s":"g","t":840,"v":1.54},{"s":"g","t":846,"v":1.51},{"s":"g","t":852,"v":1.53},{"s":"g","t":858,"v":1.5},{"s":"g","t":864,"v":1.51},{"s":"g","t":870,"v":1.49},{"s":"g","t":876,"v":1.5},{"s":"g","t":882,"v":1.48},{"s":"g","t":888,"v":1.49},{"s":"g","t":894,"v":1.47},{"s":"g","t":900,"v":1.48},{"s":"g","t":906,"v":1.46},
{"s":"f","t":0,"v":0.25},{"s":"f","t":48,"v":0.25},{"s":"f","t":96,"v":0.255},{"s":"f","t":156,"v":0.26},{"s":"f","t":180,"v":0.27},{"s":"f","t":204,"v":0.3},{"s":"f","t":222,"v":0.35},{"s":"f","t":234,"v":0.38},{"s":"f","t":246,"v":0.49},{"s":"f","t":258,"v":0.64},{"s":"f","t":266,"v":0.76},{"s":"f","t":274,"v":0.87},{"s":"f","t":280,"v":0.97},{"s":"f","t":286,"v":1.07},{"s":"f","t":292,"v":1.2},{"s":"f","t":298,"v":1.32},{"s":"f","t":302,"v":1.42},{"s":"f","t":306,"v":1.5},{"s":"f","t":314,"v":1.55},{"s":"f","t":322,"v":1.57},{"s":"f","t":330,"v":1.59},{"s":"f","t":336,"v":1.6},{"s":"f","t":342,"v":1.6},{"s":"f","t":348,"v":1.62},{"s":"f","t":354,"v":1.61},{"s":"f","t":360,"v":1.62},{"s":"f","t":366,"v":1.62},{"s":"f","t":372,"v":1.61},{"s":"f","t":378,"v":1.6},{"s":"f","t":384,"v":1.6},{"s":"f","t":390,"v":1.59},{"s":"f","t":396,"v":1.6},{"s":"f","t":402,"v":1.59},{"s":"f","t":408,"v":1.58},{"s":"f","t":414,"v":1.57},{"s":"f","t":421,"v":1.55},{"s":"f","t":432,"v":1.52},{"s":"f","t":442,"v":1.48},{"s":"f","t":450,"v":1.43},{"s":"f","t":456,"v":1.37},{"s":"f","t":462,"v":1.3},{"s":"f","t":468,"v":1.23},{"s":"f","t":474,"v":1.1},{"s":"f","t":480,"v":0.95},{"s":"f","t":486,"v":0.77},{"s":"f","t":492,"v":0.64},{"s":"f","t":498,"v":0.53},{"s":"f","t":504,"v":0.44},{"s":"f","t":510,"v":0.36},{"s":"f","t":516,"v":0.31},{"s":"f","t":522,"v":0.29},{"s":"f","t":540,"v":0.27},{"s":"f","t":600,"v":0.26},{"s":"f","t":660,"v":0.255},{"s":"f","t":720,"v":0.25},{"s":"f","t":726,"v":0.3},{"s":"f","t":732,"v":0.7},{"s":"f","t":738,"v":1.2},{"s":"f","t":744,"v":1.5},{"s":"f","t":750,"v":1.68},{"s":"f","t":756,"v":1.8},{"s":"f","t":762,"v":1.85},{"s":"f","t":768,"v":1.87},{"s":"f","t":774,"v":1.89},{"s":"f","t":780,"v":1.9},{"s":"f","t":786,"v":1.92},{"s":"f","t":792,"v":1.91},{"s":"f","t":798,"v":1.93},{"s":"f","t":804,"v":1.92},{"s":"f","t":810,"v":1.94},{"s":"f","t":816,"v":1.93},{"s":"f","t":822,"v":1.95},{"s":"f","t":828,"v":1.93},{"s":"f","t":834,"v":1.92},{"s":"f","t":840,"v":1.91},{"s":"f","t":846,"v":1.93},{"s":"f","t":852,"v":1.9},{"s":"f","t":858,"v":1.91},{"s":"f","t":864,"v":1.89},{"s":"f","t":870,"v":1.9},{"s":"f","t":876,"v":1.88},{"s":"f","t":882,"v":1.9},{"s":"f","t":888,"v":1.89},{"s":"f","t":894,"v":1.88},{"s":"f","t":900,"v":1.9},{"s":"f","t":906,"v":1.89},
{"s":"e","t":0,"v":0.23},{"s":"e","t":48,"v":0.23},{"s":"e","t":96,"v":0.235},{"s":"e","t":156,"v":0.24},{"s":"e","t":192,"v":0.26},{"s":"e","t":204,"v":0.3},{"s":"e","t":210,"v":0.37},{"s":"e","t":216,"v":0.45},{"s":"e","t":222,"v":0.54},{"s":"e","t":228,"v":0.65},{"s":"e","t":234,"v":0.78},{"s":"e","t":240,"v":0.93},{"s":"e","t":246,"v":1.1},{"s":"e","t":252,"v":1.28},{"s":"e","t":258,"v":1.44},{"s":"e","t":264,"v":1.47},{"s":"e","t":270,"v":1.48},{"s":"e","t":276,"v":1.49},{"s":"e","t":282,"v":1.5},{"s":"e","t":288,"v":1.49},{"s":"e","t":294,"v":1.51},{"s":"e","t":300,"v":1.53},{"s":"e","t":306,"v":1.55},{"s":"e","t":312,"v":1.54},{"s":"e","t":318,"v":1.57},{"s":"e","t":324,"v":1.59},{"s":"e","t":330,"v":1.61},{"s":"e","t":336,"v":1.6},{"s":"e","t":342,"v":1.63},{"s":"e","t":348,"v":1.64},{"s":"e","t":354,"v":1.66},{"s":"e","t":360,"v":1.65},{"s":"e","t":366,"v":1.68},{"s":"e","t":372,"v":1.67},{"s":"e","t":384,"v":1.68},{"s":"e","t":396,"v":1.66},{"s":"e","t":408,"v":1.65},{"s":"e","t":420,"v":1.63},{"s":"e","t":432,"v":1.58},{"s":"e","t":438,"v":1.55},{"s":"e","t":444,"v":1.52},{"s":"e","t":450,"v":1.47},{"s":"e","t":456,"v":1.43},{"s":"e","t":462,"v":1.38},{"s":"e","t":468,"v":1.34},{"s":"e","t":474,"v":1.3},{"s":"e","t":480,"v":1.27},{"s":"e","t":486,"v":1.24},{"s":"e","t":492,"v":1.2},{"s":"e","t":498,"v":1.08},{"s":"e","t":504,"v":0.96},{"s":"e","t":510,"v":0.84},{"s":"e","t":516,"v":0.74},{"s":"e","t":522,"v":0.65},{"s":"e","t":528,"v":0.57},{"s":"e","t":534,"v":0.52},{"s":"e","t":540,"v":0.48},{"s":"e","t":552,"v":0.43},{"s":"e","t":564,"v":0.39},{"s":"e","t":576,"v":0.35},{"s":"e","t":588,"v":0.32},{"s":"e","t":600,"v":0.3},{"s":"e","t":618,"v":0.28},{"s":"e","t":636,"v":0.27},{"s":"e","t":660,"v":0.26},{"s":"e","t":690,"v":0.25},{"s":"e","t":720,"v":0.245},{"s":"e","t":726,"v":0.4},{"s":"e","t":732,"v":0.9},{"s":"e","t":738,"v":1.3},{"s":"e","t":744,"v":1.55},{"s":"e","t":750,"v":1.68},{"s":"e","t":756,"v":1.76},{"s":"e","t":762,"v":1.8},{"s":"e","t":768,"v":1.84},{"s":"e","t":774,"v":1.83},{"s":"e","t":780,"v":1.86},{"s":"e","t":786,"v":1.85},{"s":"e","t":792,"v":1.88},{"s":"e","t":798,"v":1.87},{"s":"e","t":804,"v":1.88},{"s":"e","t":816,"v":1.87},{"s":"e","t":828,"v":1.89},{"s":"e","t":840,"v":1.88},{"s":"e","t":852,"v":1.9},{"s":"e","t":864,"v":1.89},{"s":"e","t":876,"v":1.91},{"s":"e","t":888,"v":1.92},{"s":"e","t":894,"v":1.94},{"s":"e","t":900,"v":1.91},{"s":"e","t":906,"v":1.88},
{"s":"d","t":0,"v":0.26},{"s":"d","t":48,"v":0.26},{"s":"d","t":96,"v":0.265},{"s":"d","t":156,"v":0.27},{"s":"d","t":192,"v":0.28},{"s":"d","t":216,"v":0.3},{"s":"d","t":228,"v":0.36},{"s":"d","t":240,"v":0.45},{"s":"d","t":252,"v":0.55},{"s":"d","t":258,"v":0.62},{"s":"d","t":264,"v":0.8},{"s":"d","t":270,"v":1.05},{"s":"d","t":276,"v":1.25},{"s":"d","t":282,"v":1.3},{"s":"d","t":288,"v":1.29},{"s":"d","t":294,"v":1.32},{"s":"d","t":300,"v":1.34},{"s":"d","t":306,"v":1.35},{"s":"d","t":312,"v":1.37},{"s":"d","t":318,"v":1.36},{"s":"d","t":324,"v":1.37},{"s":"d","t":330,"v":1.36},{"s":"d","t":336,"v":1.38},{"s":"d","t":342,"v":1.37},{"s":"d","t":348,"v":1.38},{"s":"d","t":354,"v":1.37},{"s":"d","t":360,"v":1.36},{"s":"d","t":363,"v":1.3},{"s":"d","t":366,"v":1.22},{"s":"d","t":369,"v":1.35},{"s":"d","t":375,"v":1.36},{"s":"d","t":384,"v":1.35},{"s":"d","t":390,"v":1.36},{"s":"d","t":396,"v":1.33},{"s":"d","t":402,"v":1.32},{"s":"d","t":408,"v":1.31},{"s":"d","t":414,"v":1.3},{"s":"d","t":420,"v":1.3},{"s":"d","t":426,"v":1.27},{"s":"d","t":432,"v":1.2},{"s":"d","t":438,"v":1.1},{"s":"d","t":444,"v":0.98},{"s":"d","t":450,"v":0.87},{"s":"d","t":456,"v":0.8},{"s":"d","t":462,"v":0.72},{"s":"d","t":466,"v":0.66},{"s":"d","t":474,"v":0.57},{"s":"d","t":480,"v":0.51},{"s":"d","t":486,"v":0.46},{"s":"d","t":492,"v":0.42},{"s":"d","t":498,"v":0.38},{"s":"d","t":504,"v":0.35},{"s":"d","t":510,"v":0.33},{"s":"d","t":522,"v":0.3},{"s":"d","t":540,"v":0.28},{"s":"d","t":588,"v":0.265},{"s":"d","t":660,"v":0.255},{"s":"d","t":720,"v":0.25},{"s":"d","t":726,"v":0.35},{"s":"d","t":732,"v":0.9},{"s":"d","t":738,"v":1.3},{"s":"d","t":744,"v":1.4},{"s":"d","t":750,"v":1.43},{"s":"d","t":756,"v":1.46},{"s":"d","t":762,"v":1.45},{"s":"d","t":768,"v":1.48},{"s":"d","t":774,"v":1.47},{"s":"d","t":780,"v":1.5},{"s":"d","t":786,"v":1.49},{"s":"d","t":792,"v":1.52},{"s":"d","t":798,"v":1.5},{"s":"d","t":804,"v":1.53},{"s":"d","t":810,"v":1.51},{"s":"d","t":816,"v":1.52},{"s":"d","t":822,"v":1.5},{"s":"d","t":828,"v":1.53},{"s":"d","t":834,"v":1.51},{"s":"d","t":840,"v":1.52},{"s":"d","t":846,"v":1.5},{"s":"d","t":852,"v":1.51},{"s":"d","t":858,"v":1.49},{"s":"d","t":864,"v":1.5},{"s":"d","t":870,"v":1.48},{"s":"d","t":876,"v":1.5},{"s":"d","t":882,"v":1.47},{"s":"d","t":888,"v":1.49},{"s":"d","t":894,"v":1.47},{"s":"d","t":900,"v":1.48},{"s":"d","t":906,"v":1.46},
{"s":"c","t":0,"v":0.24},{"s":"c","t":48,"v":0.24},{"s":"c","t":96,"v":0.245},{"s":"c","t":156,"v":0.25},{"s":"c","t":204,"v":0.27},{"s":"c","t":228,"v":0.3},{"s":"c","t":240,"v":0.34},{"s":"c","t":252,"v":0.4},{"s":"c","t":258,"v":0.5},{"s":"c","t":264,"v":0.7},{"s":"c","t":268,"v":1.1},{"s":"c","t":271,"v":1.4},{"s":"c","t":274,"v":1.55},{"s":"c","t":278,"v":1.58},{"s":"c","t":282,"v":1.57},{"s":"c","t":288,"v":1.59},{"s":"c","t":294,"v":1.57},{"s":"c","t":300,"v":1.6},{"s":"c","t":306,"v":1.58},{"s":"c","t":312,"v":1.57},{"s":"c","t":318,"v":1.59},{"s":"c","t":324,"v":1.58},{"s":"c","t":330,"v":1.6},{"s":"c","t":336,"v":1.58},{"s":"c","t":342,"v":1.57},{"s":"c","t":348,"v":1.59},{"s":"c","t":354,"v":1.57},{"s":"c","t":362,"v":1.57},{"s":"c","t":370,"v":1.56},{"s":"c","t":378,"v":1.55},{"s":"c","t":390,"v":1.5},{"s":"c","t":396,"v":1.46},{"s":"c","t":409,"v":1.4},{"s":"c","t":420,"v":1.32},{"s":"c","t":430,"v":1.25},{"s":"c","t":442,"v":1.17},{"s":"c","t":450,"v":1.08},{"s":"c","t":457,"v":1.02},{"s":"c","t":463,"v":0.93},{"s":"c","t":469,"v":0.84},{"s":"c","t":475,"v":0.74},{"s":"c","t":481,"v":0.64},{"s":"c","t":490,"v":0.55},{"s":"c","t":498,"v":0.49},{"s":"c","t":504,"v":0.43},{"s":"c","t":510,"v":0.38},{"s":"c","t":516,"v":0.34},{"s":"c","t":522,"v":0.31},{"s":"c","t":534,"v":0.28},{"s":"c","t":564,"v":0.26},{"s":"c","t":624,"v":0.25},{"s":"c","t":684,"v":0.245},{"s":"c","t":720,"v":0.25},{"s":"c","t":726,"v":0.6},{"s":"c","t":730,"v":1.2},{"s":"c","t":734,"v":1.45},{"s":"c","t":738,"v":1.52},{"s":"c","t":744,"v":1.55},{"s":"c","t":750,"v":1.57},{"s":"c","t":756,"v":1.6},{"s":"c","t":762,"v":1.59},{"s":"c","t":768,"v":1.62},{"s":"c","t":774,"v":1.61},{"s":"c","t":780,"v":1.63},{"s":"c","t":786,"v":1.6},{"s":"c","t":792,"v":1.63},{"s":"c","t":798,"v":1.62},{"s":"c","t":804,"v":1.64},{"s":"c","t":810,"v":1.61},{"s":"c","t":816,"v":1.63},{"s":"c","t":822,"v":1.62},{"s":"c","t":828,"v":1.6},{"s":"c","t":834,"v":1.63},{"s":"c","t":840,"v":1.61},{"s":"c","t":846,"v":1.62},{"s":"c","t":852,"v":1.6},{"s":"c","t":858,"v":1.62},{"s":"c","t":864,"v":1.61},{"s":"c","t":870,"v":1.59},{"s":"c","t":876,"v":1.62},{"s":"c","t":882,"v":1.6},{"s":"c","t":888,"v":1.61},{"s":"c","t":894,"v":1.59},{"s":"c","t":900,"v":1.6},{"s":"c","t":906,"v":1.62},
{"s":"b","t":0,"v":0.25},{"s":"b","t":48,"v":0.25},{"s":"b","t":84,"v":0.255},{"s":"b","t":96,"v":0.26},{"s":"b","t":108,"v":0.28},{"s":"b","t":120,"v":0.33},{"s":"b","t":132,"v":0.39},{"s":"b","t":144,"v":0.48},{"s":"b","t":156,"v":0.6},{"s":"b","t":168,"v":0.74},{"s":"b","t":174,"v":0.77},{"s":"b","t":180,"v":0.78},{"s":"b","t":186,"v":0.8},{"s":"b","t":192,"v":0.79},{"s":"b","t":198,"v":0.81},{"s":"b","t":204,"v":0.83},{"s":"b","t":210,"v":0.86},{"s":"b","t":216,"v":0.88},{"s":"b","t":222,"v":0.93},{"s":"b","t":228,"v":0.99},{"s":"b","t":234,"v":1.07},{"s":"b","t":240,"v":1.16},{"s":"b","t":246,"v":1.26},{"s":"b","t":252,"v":1.36},{"s":"b","t":258,"v":1.43},{"s":"b","t":264,"v":1.45},{"s":"b","t":270,"v":1.47},{"s":"b","t":276,"v":1.46},{"s":"b","t":282,"v":1.49},{"s":"b","t":288,"v":1.5},{"s":"b","t":294,"v":1.52},{"s":"b","t":300,"v":1.53},{"s":"b","t":306,"v":1.51},{"s":"b","t":312,"v":1.52},{"s":"b","t":318,"v":1.5},{"s":"b","t":324,"v":1.51},{"s":"b","t":330,"v":1.5},{"s":"b","t":336,"v":1.48},{"s":"b","t":342,"v":1.48},{"s":"b","t":348,"v":1.47},{"s":"b","t":354,"v":1.45},{"s":"b","t":360,"v":1.43},{"s":"b","t":366,"v":1.41},{"s":"b","t":372,"v":1.36},{"s":"b","t":378,"v":1.28},{"s":"b","t":384,"v":1.22},{"s":"b","t":390,"v":1.14},{"s":"b","t":396,"v":1.07},{"s":"b","t":402,"v":1.0},{"s":"b","t":408,"v":0.9},{"s":"b","t":414,"v":0.8},{"s":"b","t":420,"v":0.66},{"s":"b","t":426,"v":0.53},{"s":"b","t":432,"v":0.4},{"s":"b","t":438,"v":0.33},{"s":"b","t":444,"v":0.29},{"s":"b","t":456,"v":0.27},{"s":"b","t":504,"v":0.26},{"s":"b","t":564,"v":0.255},{"s":"b","t":624,"v":0.25},{"s":"b","t":684,"v":0.25},{"s":"b","t":720,"v":0.255},{"s":"b","t":726,"v":0.4},{"s":"b","t":732,"v":0.85},{"s":"b","t":738,"v":1.3},{"s":"b","t":744,"v":1.55},{"s":"b","t":750,"v":1.62},{"s":"b","t":756,"v":1.66},{"s":"b","t":762,"v":1.69},{"s":"b","t":768,"v":1.7},{"s":"b","t":774,"v":1.68},{"s":"b","t":780,"v":1.72},{"s":"b","t":786,"v":1.73},{"s":"b","t":792,"v":1.75},{"s":"b","t":798,"v":1.74},{"s":"b","t":804,"v":1.72},{"s":"b","t":810,"v":1.71},{"s":"b","t":816,"v":1.66},{"s":"b","t":822,"v":1.6},{"s":"b","t":828,"v":1.52},{"s":"b","t":834,"v":1.45},{"s":"b","t":840,"v":1.38},{"s":"b","t":846,"v":1.32},{"s":"b","t":852,"v":1.28},{"s":"b","t":858,"v":1.25},{"s":"b","t":864,"v":1.24},{"s":"b","t":870,"v":1.22},{"s":"b","t":876,"v":1.2},{"s":"b","t":882,"v":1.21},{"s":"b","t":888,"v":1.18},{"s":"b","t":894,"v":1.17},{"s":"b","t":900,"v":1.18},{"s":"b","t":906,"v":1.16},
{"s":"a","t":0,"v":0.27},{"s":"a","t":48,"v":0.265},{"s":"a","t":96,"v":0.27},{"s":"a","t":132,"v":0.28},{"s":"a","t":144,"v":0.31},{"s":"a","t":148,"v":0.34},{"s":"a","t":156,"v":0.42},{"s":"a","t":162,"v":0.52},{"s":"a","t":168,"v":0.72},{"s":"a","t":174,"v":0.98},{"s":"a","t":180,"v":1.25},{"s":"a","t":186,"v":1.45},{"s":"a","t":190,"v":1.52},{"s":"a","t":196,"v":1.54},{"s":"a","t":204,"v":1.55},{"s":"a","t":210,"v":1.57},{"s":"a","t":216,"v":1.59},{"s":"a","t":222,"v":1.61},{"s":"a","t":228,"v":1.6},{"s":"a","t":234,"v":1.63},{"s":"a","t":241,"v":1.66},{"s":"a","t":246,"v":1.65},{"s":"a","t":252,"v":1.67},{"s":"a","t":258,"v":1.68},{"s":"a","t":264,"v":1.7},{"s":"a","t":270,"v":1.69},{"s":"a","t":276,"v":1.71},{"s":"a","t":282,"v":1.73},{"s":"a","t":288,"v":1.72},{"s":"a","t":294,"v":1.75},{"s":"a","t":300,"v":1.74},{"s":"a","t":306,"v":1.76},{"s":"a","t":312,"v":1.75},{"s":"a","t":318,"v":1.77},{"s":"a","t":324,"v":1.76},{"s":"a","t":330,"v":1.78},{"s":"a","t":336,"v":1.77},{"s":"a","t":342,"v":1.78},{"s":"a","t":348,"v":1.77},{"s":"a","t":360,"v":1.79},{"s":"a","t":372,"v":1.8},{"s":"a","t":384,"v":1.79},{"s":"a","t":396,"v":1.8},{"s":"a","t":408,"v":1.79},{"s":"a","t":420,"v":1.81},{"s":"a","t":432,"v":1.8},{"s":"a","t":444,"v":1.82},{"s":"a","t":450,"v":1.8},{"s":"a","t":456,"v":1.81},{"s":"a","t":468,"v":1.8},{"s":"a","t":480,"v":1.81},{"s":"a","t":492,"v":1.79},{"s":"a","t":504,"v":1.78},{"s":"a","t":516,"v":1.76},{"s":"a","t":528,"v":1.74},{"s":"a","t":540,"v":1.73},{"s":"a","t":552,"v":1.71},{"s":"a","t":564,"v":1.7},{"s":"a","t":576,"v":1.7},{"s":"a","t":588,"v":1.69},{"s":"a","t":600,"v":1.68},{"s":"a","t":612,"v":1.68},{"s":"a","t":624,"v":1.67},{"s":"a","t":636,"v":1.67},{"s":"a","t":648,"v":1.66},{"s":"a","t":660,"v":1.67},{"s":"a","t":672,"v":1.65},{"s":"a","t":684,"v":1.66},{"s":"a","t":696,"v":1.64},{"s":"a","t":702,"v":1.65},{"s":"a","t":708,"v":1.64},{"s":"a","t":714,"v":1.66},{"s":"a","t":717,"v":1.72},{"s":"a","t":720,"v":1.82},{"s":"a","t":726,"v":1.95},{"s":"a","t":732,"v":2.02},{"s":"a","t":738,"v":2.05},{"s":"a","t":744,"v":2.07},{"s":"a","t":750,"v":2.09},{"s":"a","t":756,"v":2.1},{"s":"a","t":762,"v":2.11},{"s":"a","t":768,"v":2.12},{"s":"a","t":774,"v":2.1},{"s":"a","t":780,"v":2.11},{"s":"a","t":786,"v":2.12},{"s":"a","t":792,"v":2.1},{"s":"a","t":798,"v":2.1},{"s":"a","t":804,"v":2.08},{"s":"a","t":810,"v":2.09},{"s":"a","t":816,"v":2.07},{"s":"a","t":822,"v":2.06},{"s":"a","t":828,"v":2.07},{"s":"a","t":834,"v":2.05},{"s":"a","t":840,"v":2.04},{"s":"a","t":846,"v":2.03},{"s":"a","t":852,"v":2.0},{"s":"a","t":858,"v":2.01},{"s":"a","t":864,"v":1.98},{"s":"a","t":870,"v":1.96},{"s":"a","t":876,"v":1.97},{"s":"a","t":882,"v":1.94},{"s":"a","t":888,"v":1.93},{"s":"a","t":894,"v":1.91},{"s":"a","t":900,"v":1.92},{"s":"a","t":906,"v":1.89}
    ]
  },
  "layer": [
    {
      "data": {"name": "traces"},
      "mark": {"type": "line", "strokeWidth": 2.8, "strokeJoin": "round", "strokeCap": "round"},
      "encoding": {
        "x": {"field": "t", "type": "quantitative", "scale": {"domain": [0, 907], "nice": false, "zero": false}, "axis": null},
        "y": {
          "field": "v", "type": "quantitative",
          "scale": {"domain": [0, 2.5], "nice": false},
          "axis": {
            "title": "F 340/F 380",
            "values": [0, 0.25, 0.5, 0.75, 1, 1.25, 1.5, 1.75, 2, 2.25, 2.5],
            "labelExpr": "datum.value % 0.5 === 0 ? replace(format(datum.value, '.1f'), '.', ',') : ''",
            "tickSize": {"condition": {"test": "datum.value % 0.5 === 0", "value": 15}, "value": 8},
            "tickWidth": 3,
            "tickColor": "#000000",
            "domainColor": "#000000",
            "domainWidth": 3.5,
            "grid": false,
            "labelFont": "DejaVu Sans",
            "labelFontSize": 15,
            "labelColor": "#16162a",
            "labelPadding": 13,
            "labelOverlap": false,
            "titleFont": "DejaVu Sans",
            "titleFontSize": 23,
            "titleFontWeight": "normal",
            "titleColor": "#000000",
            "titlePadding": 40
          }
        },
        "color": {
          "field": "s", "type": "nominal", "legend": null,
          "scale": {
            "domain": ["a","b","c","d","e","f","g","h","i","j","k","l","m","n","o","p","q","r","s","u","v","w","x","y","z","aa","ab","ac","ad","ae","af","ag","ah","ai"],
            "range": ["#ff9900","#999900","#14148f","#14148f","#009900","#009999","#ff2a00","#993399","#14148f","#0d0d80","#999900","#ff3399","#ff9900","#ff44ff","#990000","#1a3cff","#000000","#000000","#990000","#009900","#9933ff","#993399","#009999","#ff44ff","#ff77ff","#ff2a00","#1a3cff","#ff2a00","#ff3399","#ff9900","#ff44ff","#ff2a00","#993399","#14148f"]
          }
        }
      }
    },
    {
      "data": {"name": "drugs"},
      "mark": {"type": "rule", "strokeWidth": 3, "color": "#000000"},
      "encoding": {
        "x": {"field": "start", "type": "quantitative", "scale": {"domain": [0, 907], "nice": false, "zero": false}, "axis": null},
        "x2": {"field": "end"},
        "y": {"datum": 2.34, "type": "quantitative", "scale": {"domain": [0, 2.5], "nice": false}}
      }
    },
    {
      "data": {"name": "drugs"},
      "transform": [{"calculate": "(datum.start + datum.end) / 2", "as": "mid"}],
      "mark": {"type": "text", "font": "DejaVu Sans", "fontWeight": "bold", "fontSize": 17, "align": "center", "baseline": "alphabetic", "dy": -11, "color": "#000000"},
      "encoding": {
        "x": {"field": "mid", "type": "quantitative", "scale": {"domain": [0, 907], "nice": false, "zero": false}, "axis": null},
        "y": {"datum": 2.34, "type": "quantitative", "scale": {"domain": [0, 2.5], "nice": false}},
        "text": {"field": "drug"}
      }
    },
    {
      "data": {"name": "scalebar"},
      "mark": {"type": "rule", "strokeWidth": 3, "color": "#000000"},
      "encoding": {
        "x": {"field": "start", "type": "quantitative", "scale": {"domain": [0, 907], "nice": false, "zero": false}, "axis": null},
        "x2": {"field": "end"},
        "y": {"datum": 0.06, "type": "quantitative", "scale": {"domain": [0, 2.5], "nice": false}}
      }
    },
    {
      "data": {"name": "scalebar"},
      "mark": {"type": "text", "font": "DejaVu Sans", "fontSize": 22, "align": "left", "baseline": "alphabetic", "dx": 4, "dy": 30, "color": "#000000"},
      "encoding": {
        "x": {"field": "start", "type": "quantitative", "scale": {"domain": [0, 907], "nice": false, "zero": false}, "axis": null},
        "y": {"datum": 0.06, "type": "quantitative", "scale": {"domain": [0, 2.5], "nice": false}},
        "text": {"field": "label"}
      }
    },
    {
      "data": {"values": [{}]},
      "mark": {"type": "rule", "strokeWidth": 1.5, "color": "#333333"},
      "encoding": {
        "x": {"datum": -146, "type": "quantitative", "scale": {"domain": [0, 907], "nice": false, "zero": false}, "axis": null},
        "x2": {"datum": 1000},
        "y": {"datum": 2.55, "type": "quantitative", "scale": {"domain": [0, 2.5], "nice": false}}
      }
    },
    {
      "data": {"values": [{}]},
      "mark": {"type": "rule", "strokeWidth": 1.5, "color": "#333333"},
      "encoding": {
        "x": {"datum": -146, "type": "quantitative", "scale": {"domain": [0, 907], "nice": false, "zero": false}, "axis": null},
        "y": {"datum": 2.55, "type": "quantitative", "scale": {"domain": [0, 2.5], "nice": false}},
        "y2": {"datum": -0.2}
      }
    }
  ]
}
